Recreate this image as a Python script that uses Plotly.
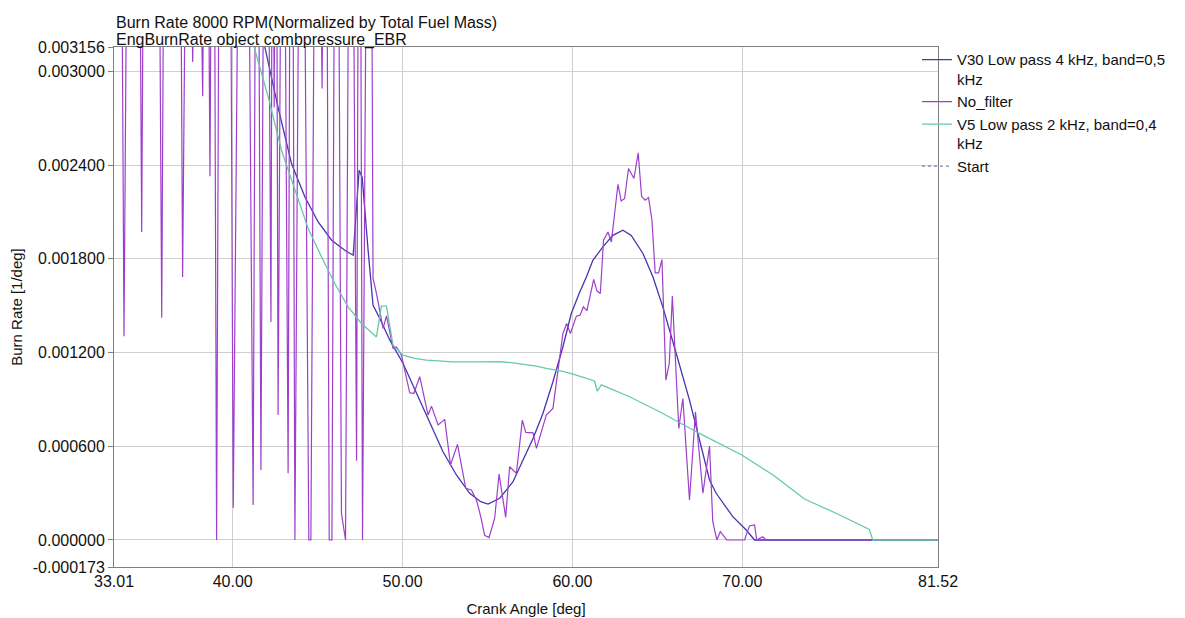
import plotly.graph_objects as go

# ---------------- data ----------------
v30_x = [40.60, 41.30, 41.89, 42.67, 43.46, 44.25, 45.03, 45.82, 46.60, 47.09,
         47.44, 47.62, 47.97, 48.26, 48.66, 49.25, 50.03, 50.82, 51.60, 52.38,
         53.17, 53.95, 54.60, 55.03, 55.72, 56.50, 57.09, 57.68, 58.26, 58.85,
         59.44, 59.93, 60.40, 60.82, 61.20, 61.79, 62.38, 62.97, 63.46, 64.15,
         64.74, 65.32, 66.11, 66.89, 67.48, 68.07, 68.46, 69.44, 70.23, 70.72,
         81.52]
v30_y = [0.00420, 0.00355, 0.003156, 0.00277, 0.00241, 0.002196, 0.002036, 0.001919, 0.001855, 0.001823,
         0.002367, 0.002323, 0.001855, 0.001503, 0.001418, 0.001279, 0.00113, 0.000938, 0.000746, 0.000565,
         0.000416, 0.000299, 0.000245, 0.00023, 0.000267, 0.000373, 0.000512, 0.00065, 0.00081, 0.001013,
         0.001237, 0.00145, 0.00158, 0.001684, 0.00179, 0.001876, 0.00195, 0.001983, 0.00195, 0.001834,
         0.001684, 0.001492, 0.001194, 0.000895, 0.00064, 0.000384, 0.000299, 0.000149, 0.000064, 0.0,
         0.0]

nf_x = [33.01, 33.35, 33.60, 33.95, 34.40, 34.64, 34.90, 35.55, 35.82, 36.10,
        36.80, 37.05, 37.35, 37.64, 37.95, 38.23, 38.45, 38.66, 38.85, 39.05,
        39.30, 39.80, 40.03, 40.30, 40.80, 41.20, 41.43, 41.66, 41.95, 42.25,
        42.35, 42.44, 42.55, 42.67, 42.95, 43.26, 43.46, 43.66, 44.05, 44.48,
        44.60, 44.93, 45.26, 45.46, 45.68, 45.84, 46.10, 46.40, 46.64, 46.95,
        47.29, 47.46, 47.64, 47.90, 48.10, 48.26, 48.46, 48.85, 49.05, 49.44,
        49.64, 49.93, 50.42, 50.66, 51.01, 51.50, 51.70, 52.09, 52.48, 52.82,
        53.23, 53.72, 54.05, 54.35, 54.60, 54.83, 55.09, 55.42, 55.68, 56.07,
        56.30, 56.70, 57.05, 57.25, 57.68, 57.88, 58.46, 58.85, 59.10, 59.44,
        59.66, 59.88, 60.23, 60.45, 60.64, 60.85, 61.25, 61.44, 61.64, 61.83,
        62.09, 62.29, 62.68, 62.87, 63.07, 63.30, 63.62, 63.87, 64.07, 64.28,
        64.48, 64.68, 64.87, 65.07, 65.27, 65.50, 65.70, 65.88, 66.26, 66.50,
        66.89, 67.24, 67.68, 68.07, 68.26, 68.50, 68.70, 69.09, 70.13, 70.42,
        70.72, 70.85, 71.20, 71.40, 77.70, 81.52]
nf_y = [0.0064, 0.0061, 0.001305, 0.0068, 0.0063, 0.001972, 0.0070, 0.0062, 0.001422, 0.0072,
        0.0066, 0.001684, 0.0055, 0.00306, 0.0050, 0.00284, 0.0058, 0.002328, 0.0062, 0.0,
        0.0069, 0.0057, 0.000207, 0.0036, 0.0060, 0.000224, 0.0063, 0.000448, 0.0067, 0.001396,
        0.0052, 0.00277, 0.0054, 0.0008, 0.0060, 0.000427, 0.0066, 0.0, 0.0064, 0.0,
        0.0, 0.0061, 0.00289, 0.0063, 0.0, 0.0, 0.0068, 0.00017, 0.0, 0.0065,
        0.000507, 0.0062, 0.0, 0.0045, 0.0060, 0.001674, 0.001578, 0.001354, 0.001435, 0.001226,
        0.001237, 0.001183, 0.000942, 0.000938, 0.001045, 0.0008, 0.000857, 0.000736, 0.000772, 0.00048,
        0.000612, 0.000331, 0.00032, 0.000256, 0.00015, 0.00003, 0.000015, 0.000139, 0.000422, 0.000145,
        0.000469, 0.000427, 0.000767, 0.000689, 0.000686, 0.000586, 0.0008, 0.000842, 0.00105, 0.001322,
        0.001386, 0.001322, 0.001433, 0.001439, 0.001492, 0.001469, 0.001668, 0.001595, 0.001578, 0.001919,
        0.001972, 0.001908, 0.002277, 0.00217, 0.002186, 0.002378, 0.002314, 0.002478, 0.0022, 0.002175,
        0.002192, 0.002047, 0.00171, 0.00171, 0.001795, 0.001023, 0.00113, 0.001561, 0.000714, 0.000906,
        0.000256, 0.000821, 0.000299, 0.000601, 0.000117, 0.0, 0.000053, 0.0, 0.0, 0.00009,
        0.000096, 0.0, 0.000021, 0.0, 0.0, 0.0]

v5_x = [40.40, 40.85, 41.26, 42.09, 42.87, 43.66, 44.44, 45.23, 46.01, 46.79,
        47.58, 48.46, 48.75, 49.05, 49.44, 50.03, 50.70, 51.40, 52.97, 54.54,
        55.80, 56.50, 57.87, 58.46, 59.44, 60.03, 61.30, 61.46, 61.70, 63.36,
        65.13, 67.48, 69.97, 71.81, 73.66, 75.52, 77.48, 77.68, 81.52]
v5_y = [0.0042, 0.0036, 0.003156, 0.002836, 0.002495, 0.002239, 0.001994, 0.001812, 0.001642, 0.001492,
        0.001386, 0.0013, 0.001497, 0.001497, 0.001247, 0.001183, 0.001162, 0.001151, 0.00114, 0.00114,
        0.001141, 0.001134, 0.001113, 0.001098, 0.00108, 0.001062, 0.001018, 0.000952, 0.000993, 0.000917,
        0.000821, 0.000682, 0.000544, 0.000416, 0.000262, 0.000171, 0.000068, 0.0, 0.0]

x_ticks = [33.01, 40.0, 50.0, 60.0, 70.0, 81.52]
x_ticktext = ["33.01", "40.00", "50.00", "60.00", "70.00", "81.52"]
y_ticks = [-0.000173, 0.0, 0.0006, 0.0012, 0.0018, 0.0024, 0.003, 0.003156]
y_ticktext = ["-0.000173", "0.000000", "0.000600", "0.001200", "0.001800",
              "0.002400", "0.003000", "0.003156"]

names = ["V30 Low pass 4 kHz, band=0,5<br>kHz", "No_filter",
         "V5 Low pass 2 kHz, band=0,4<br>kHz", "Start"]
colors = ["#4535B0", "#9E3FCB", "#66C9AA", "#7A86A8"]

FONT = "Liberation Sans, Arial, sans-serif"

fig = go.Figure()
fig.add_trace(go.Scatter(x=v30_x, y=v30_y, mode="lines", name=names[0],
                         line=dict(color=colors[0], width=1.3)))
fig.add_trace(go.Scatter(x=nf_x, y=nf_y, mode="lines", name=names[1],
                         line=dict(color=colors[1], width=1.2)))
fig.add_trace(go.Scatter(x=v5_x, y=v5_y, mode="lines", name=names[2],
                         line=dict(color=colors[2], width=1.3)))
fig.add_trace(go.Scatter(x=[None], y=[None], mode="lines", name=names[3],
                         line=dict(color=colors[3], width=1.3, dash="dot")))

fig.update_layout(
    width=1185, height=618,
    margin=dict(l=114, r=247, t=47, b=51, autoexpand=False),
    paper_bgcolor="white", plot_bgcolor="white",
    font=dict(family=FONT, size=16, color="#111111"),
    showlegend=True,
    legend=dict(x=0.9745, xanchor="left", y=1.007, yanchor="top",
                bgcolor="rgba(0,0,0,0)", font=dict(size=15, family=FONT),
                itemwidth=30, tracegroupgap=0, valign="top"),
    annotations=[
        dict(text="Burn Rate 8000 RPM(Normalized by Total Fuel Mass)",
             xref="paper", yref="paper", x=0.0, y=1.0477,
             xanchor="left", yanchor="middle", showarrow=False,
             font=dict(size=16, family=FONT, color="#111111")),
        dict(text="EngBurnRate object combpressure_EBR",
             xref="paper", yref="paper", x=0.0, y=1.0144,
             xanchor="left", yanchor="middle", showarrow=False,
             font=dict(size=16, family=FONT, color="#111111")),
    ],
)

fig.update_xaxes(
    range=[33.01, 81.52], tickvals=x_ticks, ticktext=x_ticktext,
    showgrid=True, gridcolor="#CFCFCF", gridwidth=1,
    showline=True, linecolor="#808080", linewidth=1, mirror=True,
    ticks="", zeroline=False,
    tickfont=dict(size=16, family=FONT, color="#111111"),
    title=dict(text="Crank Angle [deg]", standoff=14,
               font=dict(size=15, family=FONT, color="#111111")),
)
fig.update_yaxes(
    range=[-0.000173, 0.003156], tickvals=y_ticks, ticktext=y_ticktext,
    showgrid=True, gridcolor="#CFCFCF", gridwidth=1,
    showline=True, linecolor="#808080", linewidth=1, mirror=True,
    ticks="outside", ticklen=5, tickcolor="#808080", zeroline=False,
    tickfont=dict(size=16, family=FONT, color="#111111"),
    title=dict(text="Burn Rate [1/deg]", standoff=6,
               font=dict(size=15, family=FONT, color="#111111")),
)

fig.write_html("out.html")
